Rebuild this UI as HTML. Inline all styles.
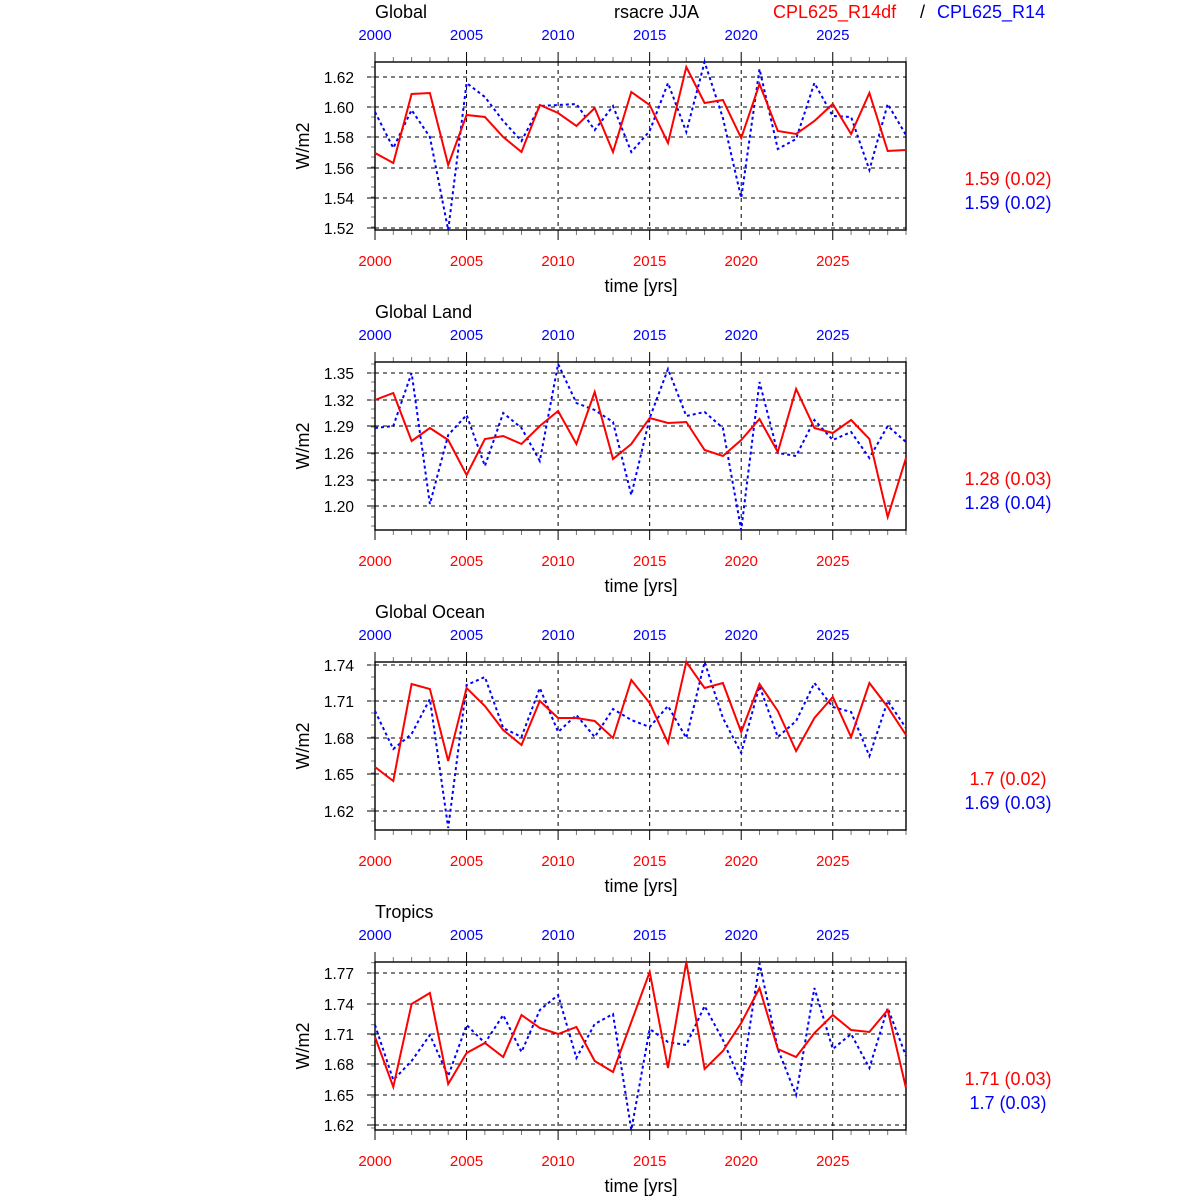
<!DOCTYPE html><html><head><meta charset="utf-8"><style>body{margin:0;background:#fff}svg{display:block}text{font-family:"Liberation Sans",sans-serif}</style></head><body>
<svg id="s" width="1200" height="1200" xmlns="http://www.w3.org/2000/svg"></svg>
<script>
const S=document.getElementById('s');let h='';
const X=y=>375+(y-2000)*(531/29);
const P=[
{t:'Global',top:62,bot:230,yt:[[1.62,77],[1.60,107],[1.58,137],[1.56,168],[1.54,198],[1.52,228]],st:['1.59 (0.02)','1.59 (0.02)'],
r:[153,163,94,93,165,115,117,137,152,105,113,126,108,152,92,105,143,67,103,100,138,84,131,134,121,104,134,93,151,150],
b:[112,148,110,137,230,83,97,121,141,106,105,104,130,106,152,131,83,132,62,118,198,69,149,139,83,116,117,170,104,135]},
{t:'Global Land',top:362,bot:530,yt:[[1.35,373],[1.32,400],[1.29,426],[1.26,453],[1.23,480],[1.20,506]],st:['1.28 (0.03)','1.28 (0.04)'],
r:[400,393,441,428,440,475,439,436,444,426,411,444,392,459,444,418,423,422,450,456,440,419,452,389,428,433,420,439,517,458],
b:[428,426,373,504,435,415,466,413,428,461,364,403,410,422,495,418,369,416,412,428,530,382,453,456,420,440,432,458,426,442]},
{t:'Global Ocean',top:662,bot:830,yt:[[1.74,665],[1.71,701],[1.68,738],[1.65,774],[1.62,811]],st:['1.7 (0.02)','1.69 (0.03)'],
r:[767,781,684,689,761,688,706,730,745,701,718,718,721,738,680,703,743,662,688,683,732,684,711,751,718,697,737,683,707,735],
b:[711,749,734,699,828,685,677,728,737,688,732,715,737,709,720,727,706,738,662,718,753,686,737,721,683,707,712,756,701,728]},
{t:'Tropics',top:962,bot:1130,yt:[[1.77,973],[1.74,1004],[1.71,1034],[1.68,1064],[1.65,1095],[1.62,1125]],st:['1.71 (0.03)','1.7 (0.03)'],
r:[1037,1087,1004,993,1084,1053,1043,1057,1015,1028,1034,1027,1061,1072,1022,972,1068,962,1069,1051,1023,988,1049,1057,1033,1015,1030,1032,1010,1088],
b:[1025,1080,1061,1035,1076,1025,1043,1015,1052,1010,995,1058,1024,1014,1130,1029,1042,1045,1006,1040,1083,963,1049,1095,988,1049,1034,1068,1008,1056]}];
h+=`<text x="614" y="18" font-size="18">rsacre JJA</text><text x="773" y="18" font-size="18" fill="red">CPL625_R14df</text><text x="920" y="18" font-size="18">/</text><text x="937" y="18" font-size="18" fill="blue">CPL625_R14</text>`;
P.forEach(p=>{
 const L=375,R=906,T=p.top,B=p.bot;
 h+=`<text x="375" y="${T-44}" font-size="18">${p.t}</text>`;
 p.yt.forEach(([v,y])=>{h+=`<line x1="${L}" x2="${R}" y1="${y}" y2="${y}" stroke="#000" stroke-dasharray="4,4"/><line x1="${L}" x2="${L-8}" y1="${y}" y2="${y}" stroke="#000"/><text x="354" y="${y+6}" font-size="15.5" text-anchor="end">${v.toFixed(2)}</text>`;});
 const d=p.yt[1][1]-p.yt[0][1];
 for(let y=p.yt[0][1]-d;y<=B;y+=d/3){if(y>=T)h+=`<line x1="${L}" x2="${L-4}" y1="${y}" y2="${y}" stroke="#777"/>`;}
 for(let yr=2000;yr<=2029;yr++){const x=X(yr),mj=yr%5==0;h+=`<line x1="${x}" x2="${x}" y1="${B}" y2="${B+(mj?10:5)}" stroke="${mj?'#000':'#777'}"/><line x1="${x}" x2="${x}" y1="${T}" y2="${T-(mj?10:5)}" stroke="${mj?'#000':'#777'}"/>`;
  if(mj){if(yr>2000)h+=`<line x1="${x}" x2="${x}" y1="${T}" y2="${B}" stroke="#000" stroke-dasharray="4,4"/>`;
  h+=`<text x="${x}" y="${T-22}" font-size="15" fill="blue" text-anchor="middle">${yr}</text><text x="${x}" y="${B+36}" font-size="15" fill="red" text-anchor="middle">${yr}</text>`;}}
 h+=`<rect x="${L}" y="${T}" width="${R-L}" height="${B-T}" fill="none" stroke="#000" stroke-width="1.4"/>`;
 const pts=a=>a.map((y,i)=>X(2000+i).toFixed(1)+','+y).join(' ');
 h+=`<polyline points="${pts(p.b)}" fill="none" stroke="blue" stroke-width="2" stroke-dasharray="3,3"/><polyline points="${pts(p.r)}" fill="none" stroke="red" stroke-width="2"/>`;
 h+=`<text x="641" y="${B+62}" font-size="18" text-anchor="middle">time [yrs]</text>`;
 const my=(T+B)/2;h+=`<text transform="translate(309,${my}) rotate(-90)" font-size="18" text-anchor="middle">W/m2</text>`;
 h+=`<text x="1008" y="${B-45}" font-size="18" fill="red" text-anchor="middle">${p.st[0]}</text><text x="1008" y="${B-21}" font-size="18" fill="blue" text-anchor="middle">${p.st[1]}</text>`;
});
S.innerHTML=h;
</script></body></html>
